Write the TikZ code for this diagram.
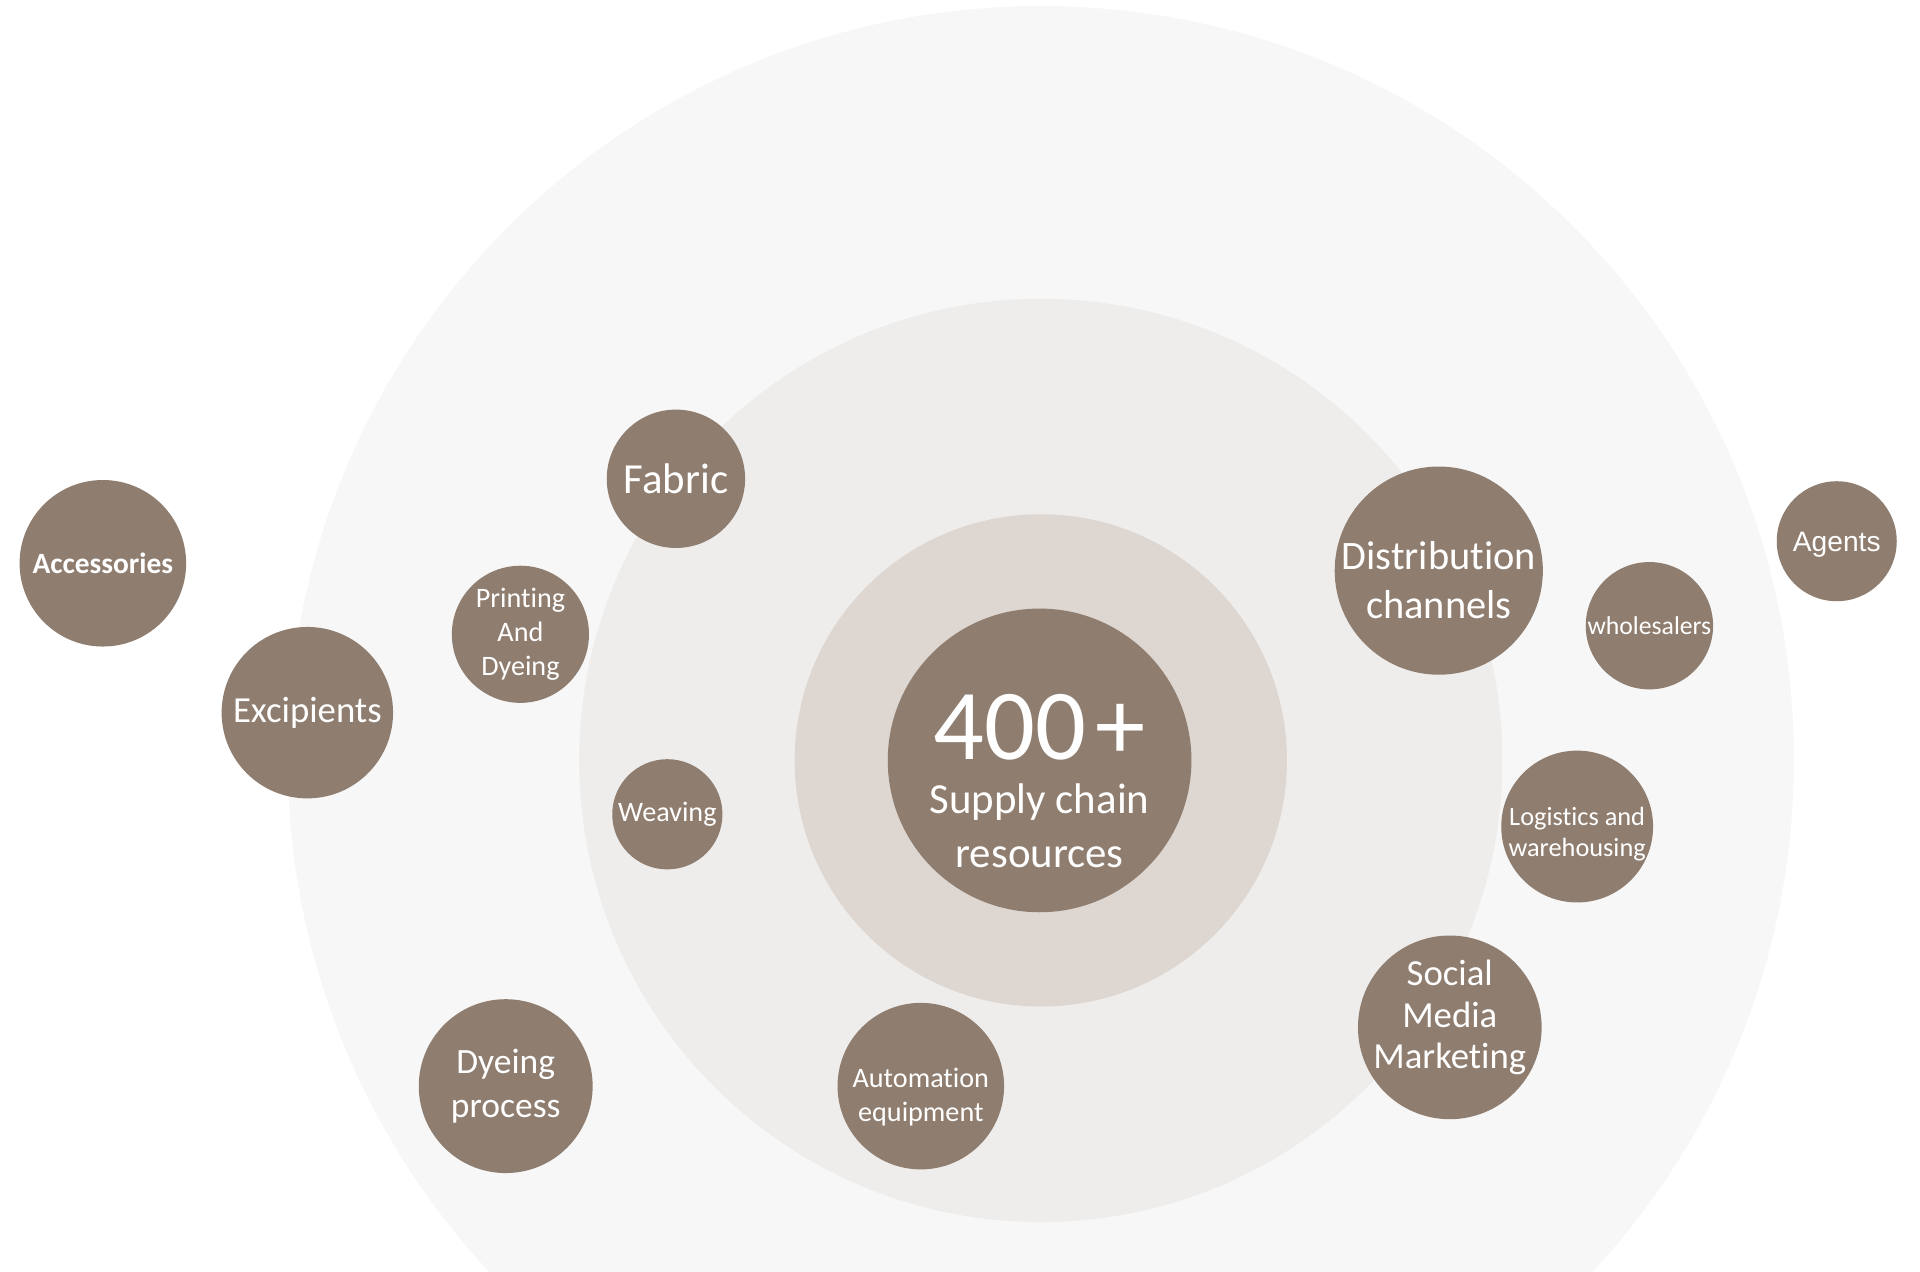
\documentclass[tikz,border=0pt]{standalone}
\usepackage{fontspec}
\setmainfont{Carlito}[Ligatures=NoCommon]
\newfontfamily\agentsfont{Liberation Sans}
\definecolor{bubble}{HTML}{8F7D6F}
\definecolor{ring outer}{HTML}{F7F7F7}
\definecolor{ring middle}{HTML}{EFEDEB}
\definecolor{ring inner}{HTML}{DDD6D1}

\begin{document}
\begin{tikzpicture}[x=1pt,y=-1pt,bubble node/.style={circle,fill=bubble,text=white,inner sep=0pt,align=center},bubble text/.style={text=white,align=center,inner sep=0pt},text size/.style 2 args={font=\fontsize{#1}{#2}\selectfont}]
                    \useasboundingbox (0,0) rectangle (1568,1038);
                    \fill[white] (0,0) rectangle (1568,1038);

                    % rings behind the bubbles
                    \begin{scope}
                        \clip (0,0) rectangle (1568,1038);
                        \fill[ring outer] (850,620) circle (615pt);
                        \fill[ring middle] (850,621) circle (377pt);
                        \fill[ring inner] (850,621) circle (201pt);
                    \end{scope}

                    \node[bubble node, minimum size=248pt] (core) at (849,621) {};
                    \node[bubble text, text size={35}{44}] (coretext) at (849,638) {{\fontsize{82}{82}\selectfont 400\kern8pt+}\\Supply chain\\resources};

                    \node[bubble node, minimum size=136pt, font=\bfseries\fontsize{24}{29}\selectfont] (acc) at (84,460) {Accessories};
                    \node[bubble node, minimum size=140pt, text size={30}{36}] (exc) at (251,582) {Excipients};
                    \node[bubble node, minimum size=112pt, text size={23}{28}] (print) at (425,518) {Printing\\And\\Dyeing};
                    \node[bubble node, minimum size=113pt, text size={35}{42}] (fabric) at (552,391) {Fabric};
                    \node[bubble node, minimum size=90pt, text size={23}{28}] (weave) at (545,665) {Weaving};
                    \node[bubble node, minimum size=142pt, text size={29}{36}] (dye) at (413,887) {Dyeing\\process};
                    \node[bubble node, minimum size=136pt, label={[bubble text, text size={23}{28}, yshift=-9pt]center:Automation\\equipment}] (auto) at (752,887) {};

                    \node[bubble node, minimum size=170pt, label={[bubble text, text size={33}{40}, yshift=-8pt]center:Distribution\\channels}] (dist) at (1175,466) {};
                    \node[bubble node, minimum size=104pt, text size={21}{26}] (whole) at (1347,511) {wholesalers};
                    \node[bubble node, minimum size=98pt, label={[bubble text, font=\agentsfont\fontsize{23}{28}\selectfont, yshift=-3pt]center:Agents}] (agents) at (1500,442) {};
                    \node[bubble node, minimum size=124pt, label={[bubble text, text size={21.5}{25}, yshift=-6pt]center:Logistics and\\warehousing}] (logi) at (1288,675) {};
                    \node[bubble node, minimum size=150pt, label={[bubble text, text size={30}{34}, yshift=8pt]center:Social\\Media\\Marketing}] (social) at (1184,839) {};
                \end{tikzpicture}
\end{document}
